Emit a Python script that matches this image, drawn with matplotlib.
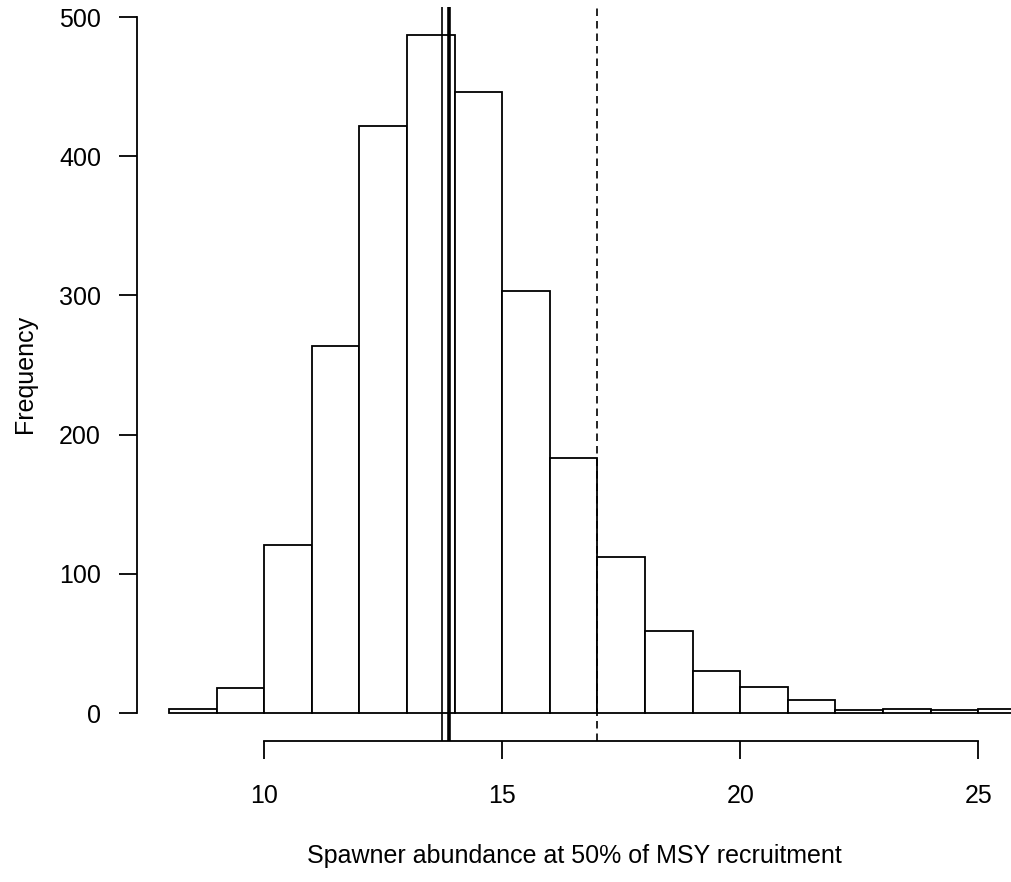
import numpy as np
import matplotlib
matplotlib.use("Agg")
import matplotlib.pyplot as plt

# histogram bins and counts
bin_edges = np.arange(8, 27, 1)
counts = [3, 18, 121, 264, 422, 487, 446, 303, 183, 112, 59, 30, 19, 9, 2, 3, 2, 3]

# reference lines
median_line = 13.74
mean_line = 13.89
upper_line = 17.0

x_ticks = [10, 15, 20, 25]
y_ticks = [0, 100, 200, 300, 400, 500]

plt.rcParams['font.family'] = ['Liberation Sans', 'DejaVu Sans']

W, H = 1011, 882
fig = plt.figure(figsize=(W / 100, H / 100), dpi=100)
# plot region in pixels: left 137, top 7, bottom 741, right runs past the edge
ax = fig.add_axes([137 / W, (H - 741) / H, (W - 137) / W, (741 - 7) / H])

ax.bar(bin_edges[:-1], counts, width=1, align='edge', color='white',
       edgecolor='black', linewidth=1.3)

ax.axvline(median_line, color='black', linewidth=1.2)
ax.axvline(mean_line, color='black', linewidth=2.6)
ax.axvline(upper_line, color='black', linewidth=1.2, linestyle=(0, (4.5, 3)))

px = 47.6  # pixels per x unit
x0 = 8 - (169 - 137) / px
ax.set_xlim(x0, x0 + (W - 137) / px)
ax.set_ylim(-20.1, 507.2)

for s in ['top', 'right']:
    ax.spines[s].set_visible(False)
ax.spines['left'].set_bounds(0, 500)
ax.spines['bottom'].set_bounds(10, 25)
ax.spines['left'].set_linewidth(1.3)
ax.spines['bottom'].set_linewidth(1.3)

ax.set_xticks(x_ticks)
ax.set_yticks(y_ticks)
ax.tick_params(axis='both', direction='out', length=13, width=1.3,
               labelsize=18)
ax.tick_params(axis='y', pad=13)
ax.tick_params(axis='x', pad=18)

ax.set_xlabel('Spawner abundance at 50% of MSY recruitment', fontsize=18,
              labelpad=26)
ax.set_ylabel('Frequency', fontsize=18, labelpad=16)

fig.savefig('out.png', dpi=100)
